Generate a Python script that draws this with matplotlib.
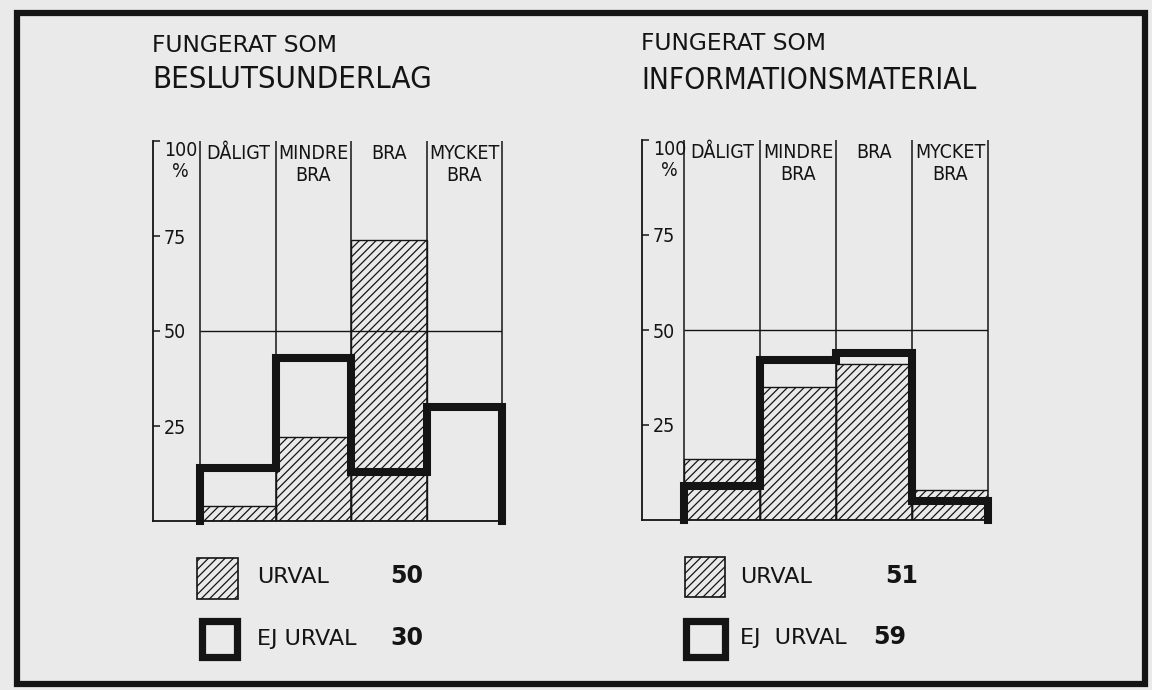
import matplotlib
matplotlib.use("Agg")
import matplotlib.pyplot as plt
from matplotlib.patches import Rectangle
import numpy as np

# ---- data ----------------------------------------------------------------
categories = ["DÅLIGT", "MINDRE\nBRA", "BRA", "MYCKET\nBRA"]

beslut_urval = [4, 22, 74, 0]
beslut_ej_urval = [14, 43, 13, 30]

info_urval = [16, 35, 41, 8]
info_ej_urval = [9, 42, 44, 5]

y_ticks = [25, 50, 75, 100]
y_ticklabels = ["25", "50", "75", "100\n%"]

panel_titles = [("FUNGERAT SOM", "BESLUTSUNDERLAG"),
                ("FUNGERAT SOM", "INFORMATIONSMATERIAL")]
legend_labels = ["URVAL", "EJ URVAL"]
n_urval = [50, 51]
n_ej_urval = [30, 59]

# ---- styling -------------------------------------------------------------
W, H = 1152, 690
BG = "#eaeaea"
INK = "#141414"
COND = dict(family="DejaVu Sans", stretch="condensed")
plt.rcParams["hatch.linewidth"] = 0.9
plt.rcParams["hatch.color"] = INK

fig = plt.figure(figsize=(W / 100, H / 100), dpi=100, facecolor=BG)


def fx(x):
    return x / W


def fy(y):
    return 1 - y / H


def panel(left, right, bottom, top, x0, urval, ej_urval):
    ax = fig.add_axes([fx(left), fy(bottom), fx(right - left), (bottom - top) / H])
    ax.set_facecolor("none")
    ax.set_xlim(x0, 4)
    ax.set_ylim(0, 100)
    for s in ("top", "right"):
        ax.spines[s].set_visible(False)
    for s in ("left", "bottom"):
        ax.spines[s].set_linewidth(1.3)
        ax.spines[s].set_color(INK)

    edges = np.arange(len(categories) + 1)
    centers = edges[:-1] + 0.5

    # column separators and the 50 % guide
    ax.vlines(edges, 0, 100, color=INK, lw=1.1, clip_on=False, zorder=1)
    ax.hlines(50, 0, 4, color=INK, lw=1.0, zorder=1)

    # hatched bars: URVAL
    ax.bar(centers, urval, width=1.0, facecolor="none", edgecolor=INK,
           hatch="////", linewidth=1.0, zorder=2)

    # heavy step outline: EJ URVAL
    st = ax.stairs(ej_urval, edges, baseline=0, fill=False, color=INK,
                   linewidth=5.8, zorder=3, clip_on=False)
    st.set_joinstyle("miter")
    st.set_capstyle("projecting")

    # y axis: ticks point inwards, labels sit inside the frame
    ax.set_yticks(y_ticks)
    ax.set_yticklabels(y_ticklabels)
    ax.tick_params(axis="y", direction="in", length=5, width=1.1,
                   pad=-8, colors=INK, labelsize=14)
    for lab, v in zip(ax.get_yticklabels(), y_ticks):
        lab.set_ha("left")
        lab.set_fontproperties(dict(size=14, **COND))
        if v == 100:
            lab.set_va("top")
            lab.set_multialignment("center")
            lab.set_linespacing(1.15)

    # category headers along the top, inside the columns
    ax.set_xticks(centers)
    ax.set_xticklabels(categories)
    ax.tick_params(axis="x", length=0, labelbottom=False, labeltop=True,
                   pad=-2, colors=INK, labelsize=14)
    for lab in ax.get_xticklabels():
        lab.set_va("top")
        lab.set_multialignment("center")
        lab.set_linespacing(1.2)
        lab.set_fontproperties(dict(size=14, **COND))
    return ax


panel(153, 502, 521, 141, -47 / 75.5, beslut_urval, beslut_ej_urval)
panel(642, 988, 520, 140, -42 / 76, info_urval, info_ej_urval)

# ---- titles --------------------------------------------------------------
title_pos = [(152, 52, 88, 22.3), (641, 50, 89, 21.3)]
for (small, big), (x, b1, b2, size) in zip(panel_titles, title_pos):
    fig.text(fx(x), fy(b1), small, ha="left", va="baseline", fontsize=16.8,
             family="DejaVu Sans", color=INK)
    fig.text(fx(x), fy(b2), big, ha="left", va="baseline", fontsize=size,
             color=INK, **COND)

# ---- legends -------------------------------------------------------------
legend_geo = [
    dict(hatch=(197, 558, 238, 599), heavy=(198, 617, 240, 660),
         tx=257, nx=(390, 390), b=(583, 645), labels=("URVAL", "EJ URVAL")),
    dict(hatch=(685, 557, 725, 597), heavy=(682, 617, 728, 660),
         tx=740, nx=(885, 873), b=(583, 644), labels=("URVAL", "EJ  URVAL")),
]
for g, nu, ne in zip(legend_geo, n_urval, n_ej_urval):
    x0, y0, x1, y1 = g["hatch"]
    fig.add_artist(Rectangle((fx(x0), fy(y1)), fx(x1 - x0), (y1 - y0) / H,
                             transform=fig.transFigure, facecolor="none",
                             edgecolor=INK, hatch="////", linewidth=1.2))
    x0, y0, x1, y1 = g["heavy"]
    inset = 3.5
    fig.add_artist(Rectangle((fx(x0 + inset), fy(y1 - inset)),
                             fx(x1 - x0 - 2 * inset), (y1 - y0 - 2 * inset) / H,
                             transform=fig.transFigure, facecolor="none",
                             edgecolor=INK, linewidth=5.2, joinstyle="miter"))
    for lab, nval, nx, base in zip(g["labels"], (nu, ne), g["nx"], g["b"]):
        fig.text(fx(g["tx"]), fy(base), lab, ha="left", va="baseline",
                 fontsize=16, family="DejaVu Sans", color=INK)
        fig.text(fx(nx), fy(base), str(nval), ha="left", va="baseline",
                 fontsize=17, family="DejaVu Sans", fontweight="bold", color=INK)

# ---- outer frame ---------------------------------------------------------
fig.add_artist(Rectangle((fx(17), fy(684)), fx(1145 - 17), (684 - 13) / H,
                         transform=fig.transFigure, facecolor="none",
                         edgecolor=INK, linewidth=4.5, joinstyle="miter"))

fig.savefig("out.png", dpi=100, facecolor=BG)
